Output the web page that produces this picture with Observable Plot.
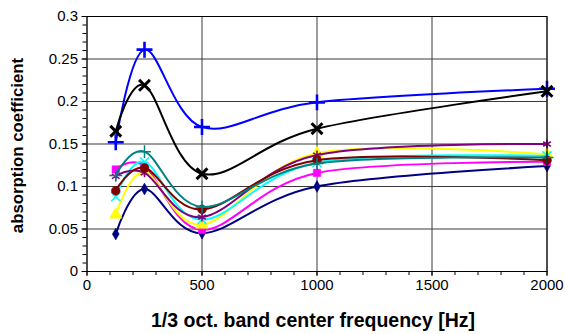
<!DOCTYPE html>
<html>
<head>
<meta charset="utf-8">
<script src="https://cdn.jsdelivr.net/npm/d3@7"></script>
<script src="https://cdn.jsdelivr.net/npm/@observablehq/plot@0.6"></script>
<style>
  html, body { margin: 0; padding: 0; background: #fff; }
  #chart svg { display: block; font-family: "Liberation Sans", Arial, sans-serif; }
</style>
</head>
<body>
<div id="chart"></div>
<script>
// ---- data ----
const freq = [125, 250, 500, 1000, 2000];
const navy    = [0.044, 0.097, 0.045, 0.100, 0.124];
const magenta = [0.120, 0.124, 0.049, 0.116, 0.129];
const yellow  = [0.067, 0.117, 0.055, 0.139, 0.138];
const cyan    = [0.088, 0.129, 0.061, 0.128, 0.136];
const purple  = [0.112, 0.116, 0.064, 0.137, 0.150];
const maroon  = [0.095, 0.122, 0.073, 0.131, 0.131];
const teal    = [0.113, 0.141, 0.076, 0.127, 0.134];
const blue    = [0.152, 0.261, 0.170, 0.199, 0.215];
const black   = [0.165, 0.219, 0.115, 0.168, 0.212];

const xTicks = [0, 500, 1000, 1500, 2000];
const xTickLabels = ["0", "500", "1000", "1500", "2000"];
const yTicks = [0, 0.05, 0.1, 0.15, 0.2, 0.25, 0.3];
const yTickLabels = ["0", "0.05", "0.1", "0.15", "0.2", "0.25", "0.3"];
const xTitle = "1/3 oct. band center frequency [Hz]";
const yTitle = "absorption coefficient";

// ---- series styling ----
const series = [
  {v: navy,    color: "#000080", symbol: "diamond",  r: 3.6, filled: true},
  {v: magenta, color: "#FF00FF", symbol: "square",   r: 4.2, filled: true},
  {v: yellow,  color: "#FFFF00", symbol: "triangle", r: 4.6, filled: true},
  {v: cyan,    color: "#00FFFF", symbol: "times",    r: 4.2, filled: false, sw: 1.5},
  {v: purple,  color: "#800080", symbol: "asterisk", r: 4.2, filled: false, sw: 1.5},
  {v: maroon,  color: "#800000", symbol: "circle",   r: 4.4, filled: true},
  {v: teal,    color: "#008080", symbol: "plus",     r: 4.2, filled: false, sw: 1.5},
  {v: blue,    color: "#0000FF", symbol: "plus",     r: 5.2, filled: false, sw: 2.6},
  {v: black,   color: "#000000", symbol: "times",    r: 5.0, filled: false, sw: 3}
];

const marks = [];
// grid
marks.push(Plot.ruleY(yTicks, {stroke: "#3a3a3a", strokeWidth: 1}));
marks.push(Plot.ruleX(xTicks, {stroke: "#3a3a3a", strokeWidth: 1}));
for (const s of series) {
  const rows = freq.map((f, i) => ({f, a: s.v[i]}));
  marks.push(Plot.line(rows, {x: "f", y: "a", stroke: s.color, strokeWidth: 2, curve: "cardinal"}));
  marks.push(Plot.dot(rows, s.filled
    ? {x: "f", y: "a", symbol: () => s.symbol, r: s.r, fill: s.color, stroke: s.color, strokeWidth: 0.5}
    : {x: "f", y: "a", symbol: () => s.symbol, r: s.r, fill: "none", stroke: s.color, strokeWidth: s.sw}));
}
marks.push(Plot.frame({stroke: "#000", strokeWidth: 1}));
// axes
marks.push(Plot.axisX({ticks: xTicks, tickSize: 5, tickPadding: 3, tickFormat: (d, i) => xTickLabels[i], label: null, fontSize: 15, stroke: "#000"}));
marks.push(Plot.axisX({ticks: d3.range(0, 2001, 100), tickSize: 4, tickFormat: () => "", label: null, stroke: "#000"}));
marks.push(Plot.axisY({ticks: yTicks, tickSize: 5, tickPadding: 4, tickFormat: (d, i) => yTickLabels[i], label: null, fontSize: 15, stroke: "#000"}));
marks.push(Plot.axisY({ticks: d3.range(0, 31).map(d => d / 100), tickSize: 4, tickFormat: () => "", label: null, stroke: "#000"}));
// titles
marks.push(Plot.text([xTitle], {frameAnchor: "bottom", dx: -4, dy: 49.5, lineAnchor: "middle", textAnchor: "middle", fontWeight: "bold", fontSize: 19.5, fill: "#000"}));
marks.push(Plot.text([yTitle], {frameAnchor: "left", dx: -69.5, dy: 1.5, rotate: -90, lineAnchor: "middle", textAnchor: "middle", fontWeight: "bold", fontSize: 16.8, fill: "#000"}));

const chart = Plot.plot({
  width: 565,
  height: 334,
  marginLeft: 86.5,
  marginRight: 18.5,
  marginTop: 16,
  marginBottom: 63,
  x: {domain: [0, 2000]},
  y: {domain: [0, 0.3]},
  style: {fontFamily: "'Liberation Sans', Arial, sans-serif", color: "#000", background: "#fff"},
  marks
});
document.getElementById("chart").appendChild(chart);
</script>
</body>
</html>
